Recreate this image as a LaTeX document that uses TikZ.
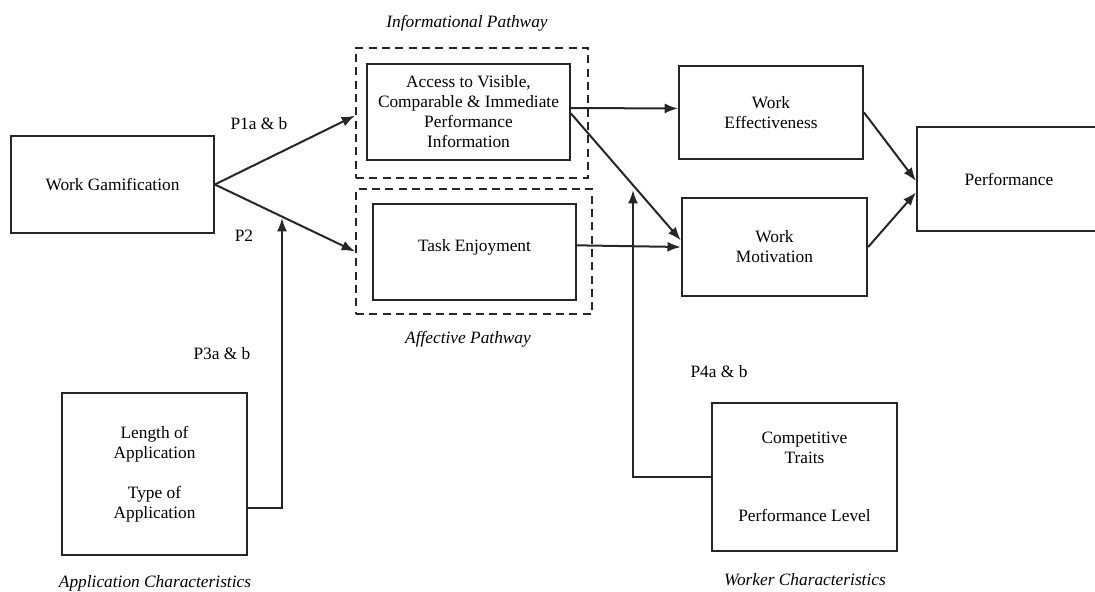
\documentclass[tikz,border=0pt]{standalone}
\usepackage{fontspec}
\setmainfont{Liberation Serif}
\usepackage{tikz}
\usetikzlibrary{arrows,arrows.meta}
\usetikzlibrary{calc}

\begin{document}
\begin{tikzpicture}[x=0.75pt,y=-0.75pt,
    font=\fontsize{13}{15}\selectfont,
    box/.style={draw=black!85, line width=1.5pt, align=center, inner sep=0pt},
    pathbox/.style={draw=black!85, line width=1.5pt, dashed, dash pattern=on 6pt off 4pt},
    link/.style={draw=black!85, line width=1.5pt, -{Latex[length=10pt,width=7.5pt]}},
    lbl/.style={font=\fontsize{13}{15}\selectfont\itshape}]
       \useasboundingbox (0,0) rectangle (1095,592);

       \node[box, minimum width=152pt, minimum height=73pt] (gamify) at (112.5,184.5) {Work Gamification};

       \node[pathbox, minimum width=174pt, minimum height=97.5pt] (infopath) at (472,113) {};
       \node[pathbox, minimum width=177pt, minimum height=94pt] (affpath) at (474,251.5) {};
       \node[box, minimum width=152pt, minimum height=72pt] (access) at (468.5,112) {Access to Visible,\\Comparable \& Immediate\\Performance\\Information};
       \node[box, minimum width=152pt, minimum height=72pt] (enjoy) at (474.5,252) {Task Enjoyment\\[-0.4em]};
       \node[lbl] (infolbl) at (467,23) {Informational Pathway};
       \node[lbl] (afflbl) at (468,339) {Affective Pathway};

       \node[box, minimum width=138pt, minimum height=70pt] (effect) at (771,112.5) {Work\\Effectiveness};
       \node[box, minimum width=139pt, minimum height=73.5pt] (motiv) at (774.5,247) {Work\\Motivation};
       \node[box, minimum width=138pt, minimum height=78pt] (perf) at (1009,179) {Performance};

       \node[box, minimum width=139pt, minimum height=121.5pt] (appchar) at (154.5,474) {Length of\\Application\\[15pt]Type of\\Application};
       \node[lbl] (applbl) at (155,583) {Application Characteristics};
       \node[box, minimum width=139pt, minimum height=111pt] (workchar) at (804.5,477) {Competitive\\Traits\\[29pt]Performance Level};
       \node[lbl] (worklbl) at (805,580) {Worker Characteristics};

       \node (p1) at (259,124) {P1a \& b};
       \node (p2) at (244,236) {P2};
       \node (p3) at (222,354) {P3a \& b};
       \node (p4) at (719,372) {P4a \& b};

       \coordinate (p3end) at (282,218);
       \coordinate (p4end) at (633,190);

       \draw[link] (gamify.east) -- ([yshift=-2pt]infopath.west);
       \draw[link] (gamify.east) -- (affpath.west);
       \draw[link] ([yshift=-25.5pt]appchar.east) -| (p3end);
       \draw[link] ([yshift=3pt]access.east) -- ([yshift=3pt]effect.west);
       \draw[link] ([yshift=-1pt]access.east) -- ([yshift=5pt]motiv.west);
       \draw[link] ([yshift=5pt]enjoy.east) -- (motiv.west);
       \draw[link] (workchar.west) -| (p4end);
       \draw[link] (effect.east) -- ([yshift=-1.5pt]perf.west);
       \draw[link] (motiv.east) -- ([yshift=-10pt]perf.west);
\end{tikzpicture}
\end{document}
